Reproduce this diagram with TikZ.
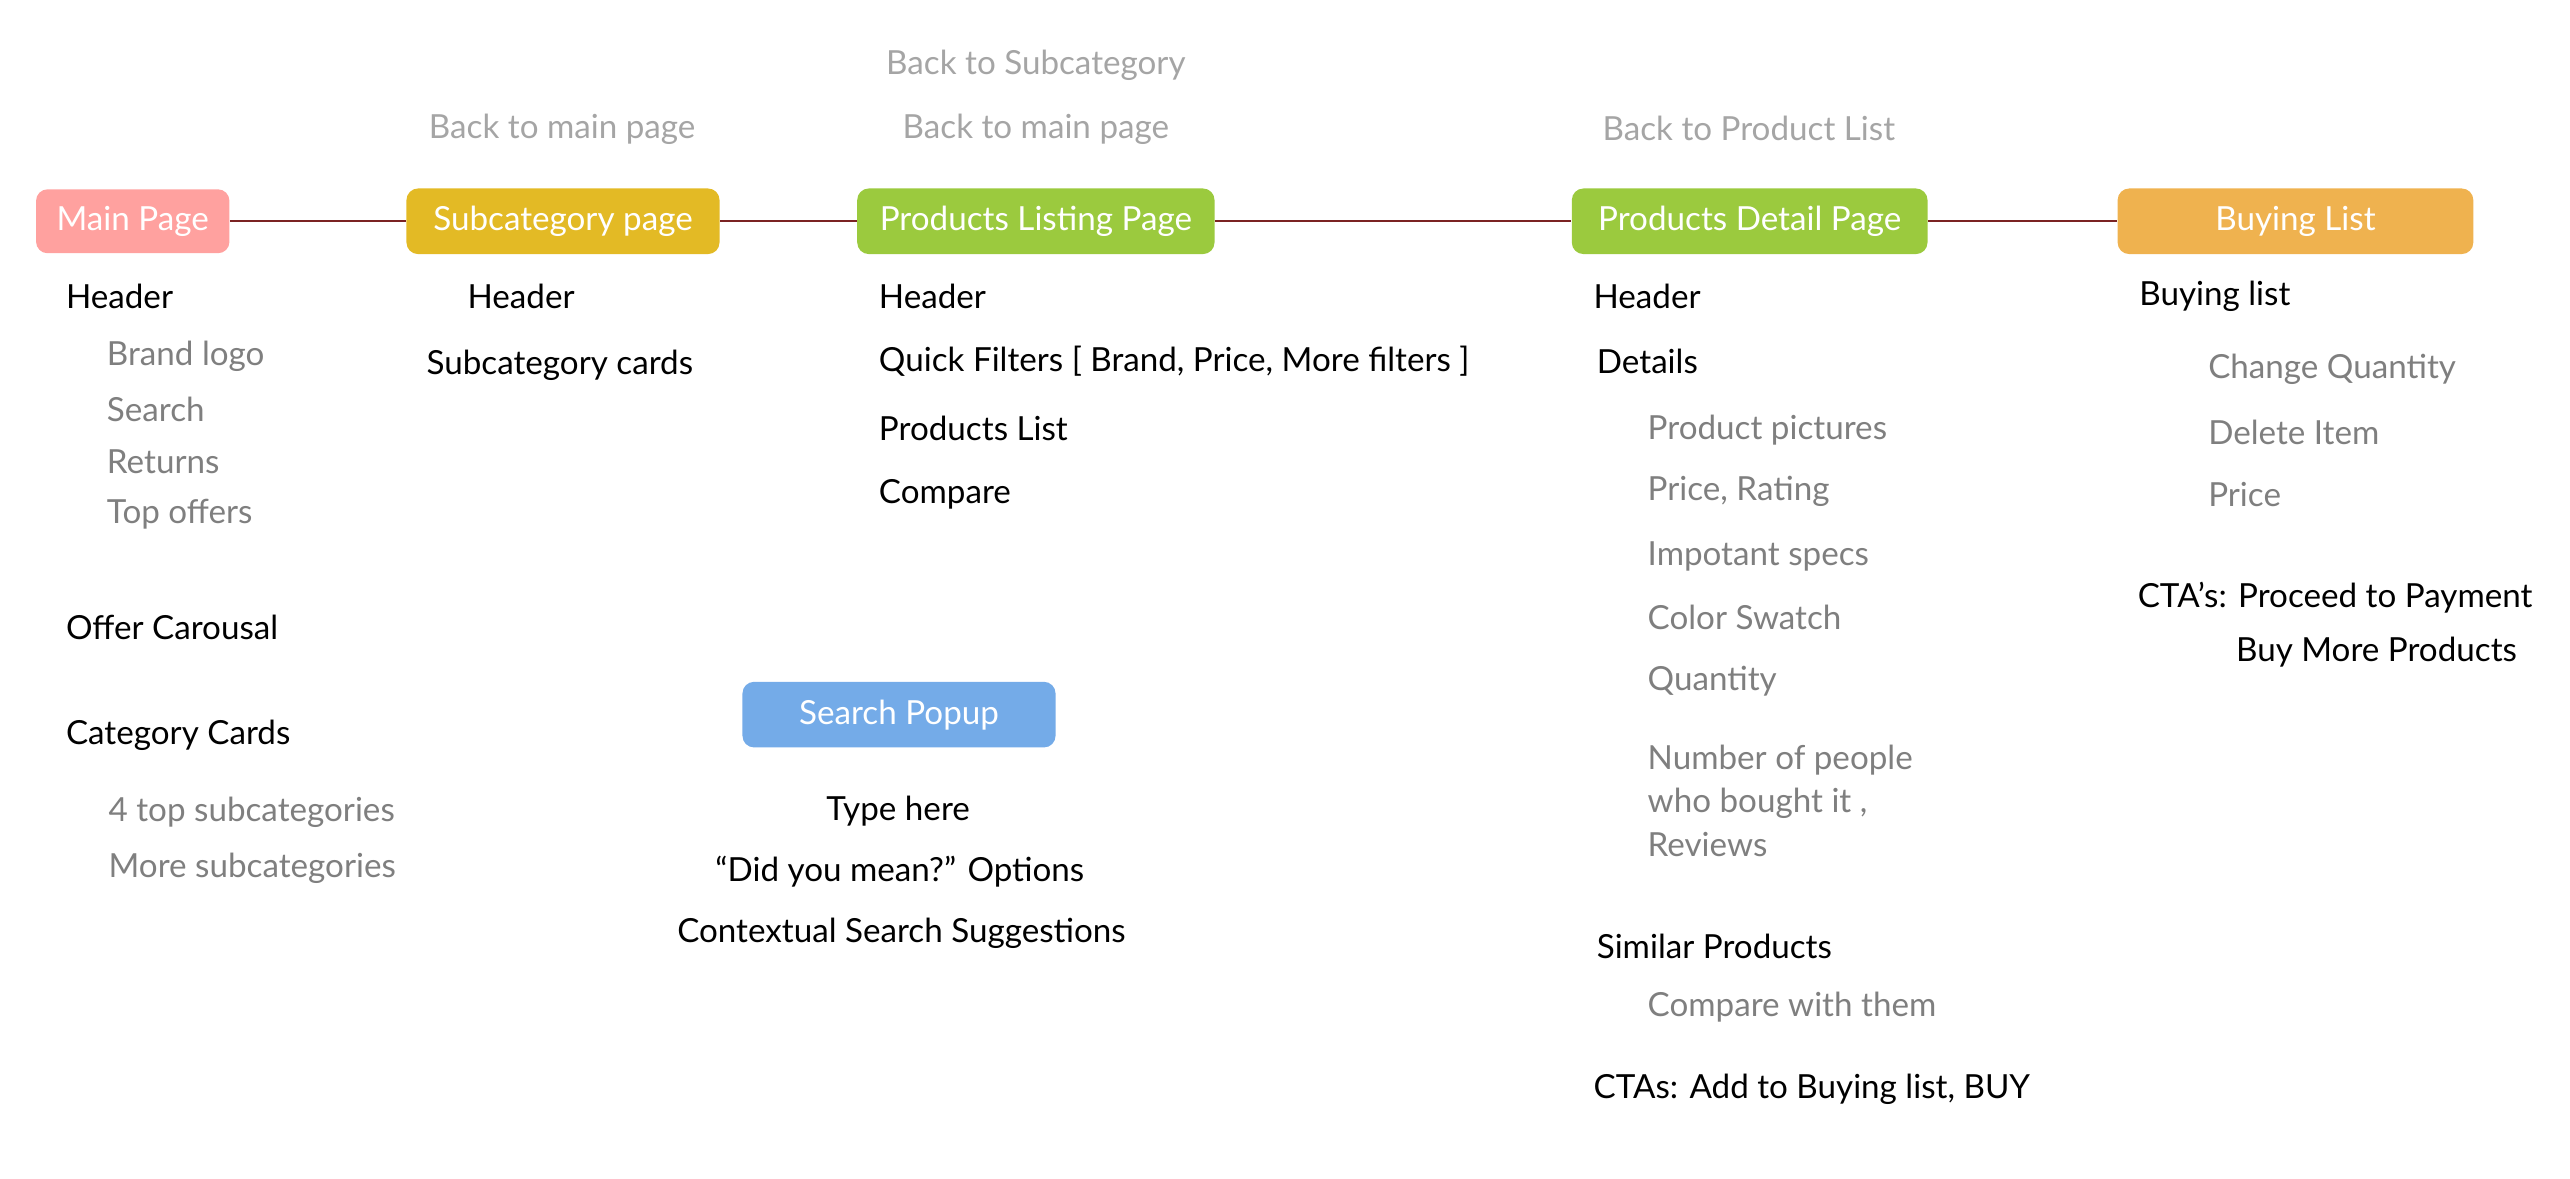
\documentclass[tikz,border=0pt]{standalone}
\usepackage{fontspec}
\setmainfont{Lato}
\usetikzlibrary{positioning}

\definecolor{pinkbox}{HTML}{FFA19F}
\definecolor{yellowbox}{HTML}{E3BA25}
\definecolor{greenbox}{HTML}{9BCA3E}
\definecolor{orangebox}{HTML}{EFB24F}
\definecolor{bluebox}{HTML}{74ABE8}
\definecolor{linkred}{HTML}{7B2323}
\definecolor{itemgrey}{HTML}{7F7F7F}
\definecolor{backgrey}{HTML}{A5A5A5}

\tikzset{
  page/.style={rounded corners=5pt,text=white,minimum height=1cm,inner sep=0pt,
    font=\fontsize{14.4}{16}\selectfont},
  main/.style={anchor=west,inner sep=0pt,yshift=-0.04cm,font=\fontsize{14.4}{16}\selectfont},
  item/.style={main,text=itemgrey},
  back/.style={inner sep=0pt,yshift=-0.04cm,text=backgrey,font=\fontsize{14.4}{16}\selectfont},
  popitem/.style={inner sep=0pt,yshift=-0.04cm,font=\fontsize{14.4}{16}\selectfont},
  link/.style={linkred,line width=1pt}
}

\begin{document}
\begin{tikzpicture}[x=0.025cm,y=-0.025cm]
  \useasboundingbox (0,0) rectangle (1568,719);

  % pages
  \node[page,fill=pinkbox,minimum width=118*0.025cm,minimum height=39*0.025cm] (mainpg) at (81,135) {Main Page};
  \node[page,fill=yellowbox,minimum width=191*0.025cm] (subpg) at (343.5,135) {Subcategory page};
  \node[page,fill=greenbox,minimum width=218*0.025cm] (listpg) at (632,135) {Products Listing Page};
  \node[page,fill=greenbox,minimum width=217*0.025cm] (detailpg) at (1067.5,135) {Products Detail Page};
  \node[page,fill=orangebox,minimum width=217*0.025cm] (buypg) at (1400.5,135) {Buying List};
  \node[page,fill=bluebox,minimum width=191*0.025cm] (searchpg) at (548.5,436) {Search Popup};

  \draw[link] (mainpg) -- (subpg);
  \draw[link] (subpg) -- (listpg);
  \draw[link] (listpg) -- (detailpg);
  \draw[link] (detailpg) -- (buypg);

  % back links
  \node[back] (backsub) at (343,77) {Back to main page};
  \node[back] (backlist1) at (632,38) {Back to Subcategory};
  \node[back] (backlist2) at (632,77) {Back to main page};
  \node[back] (backdetail) at (1067,77) {Back to Product List};

  % main page
  \node[main] (mhead) at (40,179) {Header};
  \foreach \y/\t [count=\i] in {216/Brand logo,248/Search,280/Returns,312/Top offers}
    \node[item] (mhd\i) at (65,\y) {\t};
  \node[main] (moffer) at (40,381) {Offer Carousal};
  \node[main] (mcat) at (40,447) {Category Cards};
  \node[item] (mcat1) at (66,494) {4 top subcategories};
  \node[item] (mcat2) at (66,528) {More subcategories};

  % subcategory page
  \node[main] (shead) at (285,179) {Header};
  \node[main] (scards) at (260,221) {Subcategory cards};

  % listing page
  \foreach \y/\t [count=\i] in {179/Header,219/{Quick Filters [ Brand, Price, More filters ]},260/Products List,300/Compare}
    \node[main] (l\i) at (536,\y) {\t};

  % search popup
  \node[popitem] (stype) at (548,493) {Type here};
  \node[popitem] (smean) at (549,530) {“Did you mean?” Options};
  \node[popitem] (ssugg) at (550,568) {Contextual Search Suggestions};

  % detail page
  \node[main] (dhead) at (972,179) {Header};
  \node[main] (ddet) at (974,219) {Details};
  \foreach \y/\t [count=\i] in {261/Product pictures,298/{Price, Rating},338/Impotant specs,375/Color Swatch,414/Quantity}
    \node[item] (dd\i) at (1005,\y) {\t};
  \node[item,align=left,font=\fontsize{14.4}{18.8}\selectfont] (dbought) at (1005,487) {Number of people\\who bought it ,\\Reviews};
  \node[main] (dsim) at (974,576) {Similar Products};
  \node[item] (dcomp) at (1005,613) {Compare with them};
  \node[main] (dcta) at (972,663) {CTAs: Add to Buying list, BUY};

  % buying list
  \node[main] (bhead) at (1305,179) {Buying list};
  \foreach \y/\t [count=\i] in {224/Change Quantity,262/Delete Item,300/Price}
    \node[item] (bb\i) at (1347,\y) {\t};
  \node[main] (bcta1) at (1304,363) {CTA’s: Proceed to Payment};
  \node[main] (bcta2) at (1364,396) {Buy More Products};
\end{tikzpicture}
\end{document}
